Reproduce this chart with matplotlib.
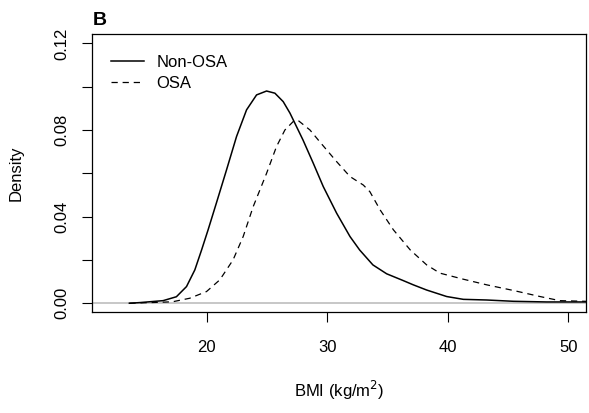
#!/usr/bin/env python3

'''
Density of BMI for Non-OSA and OSA groups (panel B).
Curve values read off the reference picture.
'''

import matplotlib.pyplot as plt

# Non-OSA (solid)
non_osa_bmi = [13.6, 14.46, 16.4, 17.5, 18.34, 19.03, 19.59, 20.13, 20.83,
               21.66, 22.49, 23.32, 24.15, 24.98, 25.67, 26.36, 26.92, 27.33,
               28.0, 28.85, 29.68, 30.79, 31.9, 32.7, 33.8, 34.94, 36.3,
               37.15, 38.26, 39.92, 41.3, 43.24, 45.45, 48.2, 51.4, 53.0]
non_osa_density = [0.0, 0.0003, 0.0012, 0.003, 0.0077, 0.0154, 0.0246, 0.0339,
                   0.0465, 0.0616, 0.077, 0.0893, 0.0962, 0.098, 0.097,
                   0.0931, 0.0878, 0.0831, 0.0754, 0.0647, 0.0539, 0.0416,
                   0.0308, 0.0246, 0.0177, 0.0136, 0.0105, 0.0085, 0.0061,
                   0.0031, 0.0018, 0.0015, 0.0009, 0.0006, 0.0006, 0.0005]

# OSA (dashed)
osa_bmi = [13.6, 16.4, 17.2, 18.6, 20.0, 21.1, 22.2, 23.04, 23.87, 24.98, 25.8,
           26.5, 27.19, 27.6, 28.58, 29.4, 30.79, 31.9, 33.0, 33.55, 34.4,
           35.5, 36.9, 38.26, 39.36, 41.3, 43.24, 45.45, 47.66, 49.3, 51.4,
           53.0]
osa_density = [0.0, 0.0005, 0.0007, 0.0023, 0.0054, 0.0108, 0.020, 0.0308,
               0.0446, 0.060, 0.0723, 0.080, 0.0839, 0.0844, 0.080, 0.0745,
               0.0654, 0.0585, 0.0546, 0.0515, 0.0431, 0.0339, 0.0246, 0.0177,
               0.0139, 0.0111, 0.0085, 0.0059, 0.0031, 0.0012, 0.0009, 0.0007]

x_ticks = [20, 30, 40, 50]
y_ticks = [0.0, 0.02, 0.04, 0.06, 0.08, 0.10, 0.12]
y_labels = ['0.00', '', '0.04', '', '0.08', '', '0.12']

plt.rcParams['font.family'] = ['Liberation Sans', 'DejaVu Sans']
plt.rcParams['font.size'] = 12
plt.rcParams['lines.scale_dashes'] = False

fig = plt.figure(figsize=(5.89, 4.13), dpi=100)
ax = fig.add_axes([0.157, 0.2453, 0.8374, 0.6717])

ax.axhline(0, color='#bebebe', lw=1.2, zorder=1)
ax.plot(non_osa_bmi, non_osa_density, color='black', lw=1.1, label='Non-OSA')
ax.plot(osa_bmi, osa_density, color='black', lw=0.9, dashes=(4.5, 3.5),
        label='OSA')

ax.set_xlim(10.54, 51.45)
ax.set_ylim(-0.0039, 0.1242)
ax.set_xticks(x_ticks)
ax.set_xticklabels([str(t) for t in x_ticks])
ax.set_yticks(y_ticks)
ax.set_yticklabels(y_labels, rotation=90, va='center')

ax.tick_params(direction='out', length=7.5, width=0.8, pad=9)
ax.tick_params(axis='x', pad=13)
for s in ax.spines.values():
    s.set_linewidth(0.9)

ax.set_xlabel('BMI (kg/m$^2$)', labelpad=17)
ax.set_ylabel('Density', labelpad=22)

ax.text(0.0, 1.02, 'B', transform=ax.transAxes, fontsize=14,
        fontweight='bold', ha='left', va='bottom')

ax.legend(loc='upper left', frameon=False, handlelength=2.0,
          handletextpad=0.75, borderaxespad=0.4, labelspacing=0.4,
          bbox_to_anchor=(0.01, 0.975))

fig.savefig('out.png', dpi=100)
print('Generated: out.png')
